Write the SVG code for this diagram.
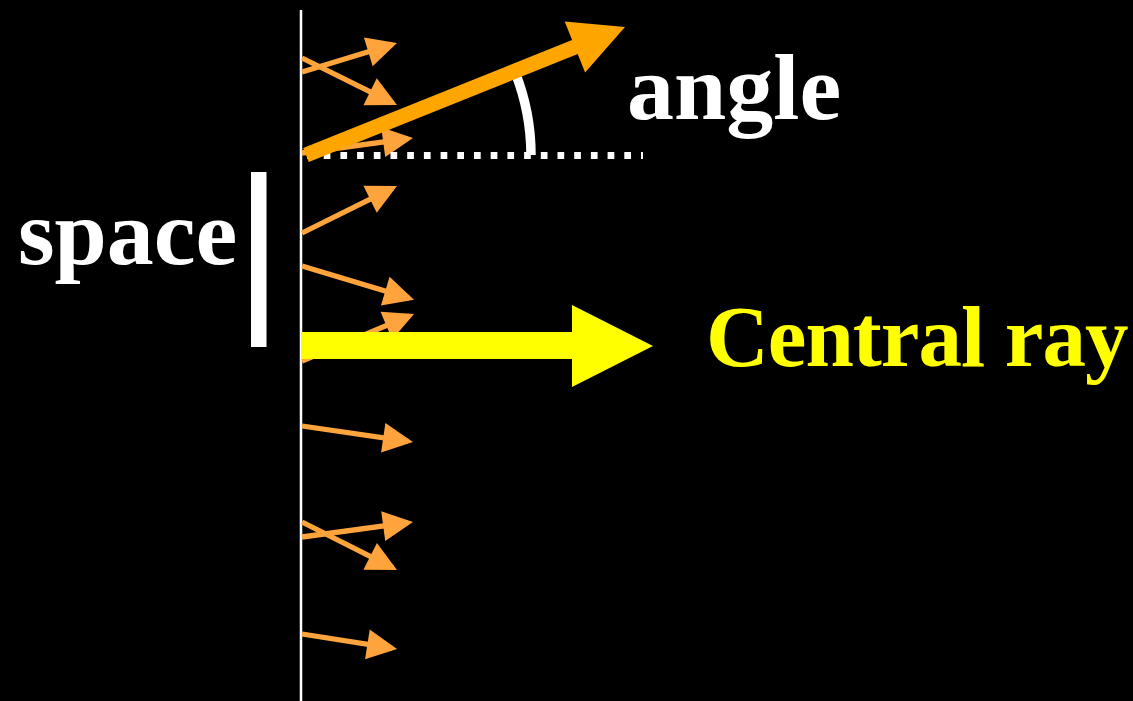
<svg xmlns="http://www.w3.org/2000/svg" width="1133" height="701" viewBox="0 0 1133 701">
<defs>
<marker id="head" viewBox="0 0 30 30" markerWidth="30" markerHeight="30" refX="25" refY="15" orient="auto" markerUnits="userSpaceOnUse" overflow="visible">
<path d="M0,0 L30,15 L0,30 Z" fill="#FFA43C"/>
</marker>
</defs>
<style>
.ray{stroke:#FFA43C;stroke-width:5.3;fill:none;marker-end:url(#head)}
.lbl{font-family:"Liberation Serif","Times New Roman",serif;font-weight:bold}
</style>
<rect x="0" y="0" width="1133" height="701" fill="#000"/>
<g id="surface">
<line x1="301" y1="10" x2="301" y2="701" stroke="#fff" stroke-width="2.5"/>
</g>
<g id="connectors">
<line class="ray" x1="302" y1="72" x2="392.2" y2="44.5"/>
<line class="ray" x1="302" y1="58" x2="392.5" y2="102.8"/>
<line class="ray" x1="302" y1="153" x2="408" y2="138.7"/>
<line class="ray" x1="302" y1="233" x2="392.5" y2="188.2"/>
<line class="ray" x1="302" y1="266" x2="409.2" y2="298.3"/>
<line class="ray" x1="302" y1="361" x2="409.4" y2="315.9"/>
<line class="ray" x1="302" y1="426" x2="408" y2="441.3"/>
<line class="ray" x1="302" y1="537" x2="408" y2="522.7"/>
<line class="ray" x1="302" y1="522" x2="392.5" y2="567.7"/>
<line class="ray" x1="302" y1="634" x2="392.1" y2="648.2"/>
</g>
<g id="reference-line">
<line x1="307" y1="155.5" x2="643" y2="155.5" stroke="#fff" stroke-width="7" stroke-dasharray="6.7 10"/>
</g>
<g id="angle-arc">
<path d="M531,155 A226,226 0 0 0 515,72" fill="none" stroke="#fff" stroke-width="9.5"/>
</g>
<g id="big-ray">
<polygon points="303.2,148 572.1,40.1 564.7,21.6 625,27 585.1,72.6 577.7,54.1 308.8,162" fill="#FFA500"/>
</g>
<g id="central-ray">
<polygon points="301,332 572,332 572,305 653,346 572,387 572,359 301,359" fill="#FFFF00"/>
</g>
<g id="space-bar">
<rect x="251" y="172" width="15.5" height="175" fill="#fff"/>
</g>
<g id="labels">
<text class="lbl" x="18" y="264" font-size="94" fill="#fff">space</text>
<text class="lbl" x="627" y="119" font-size="94" fill="#fff">angle</text>
<text class="lbl" x="706" y="366" font-size="87" letter-spacing="-1" fill="#FFFF00">Central ray</text>
</g>
</svg>
